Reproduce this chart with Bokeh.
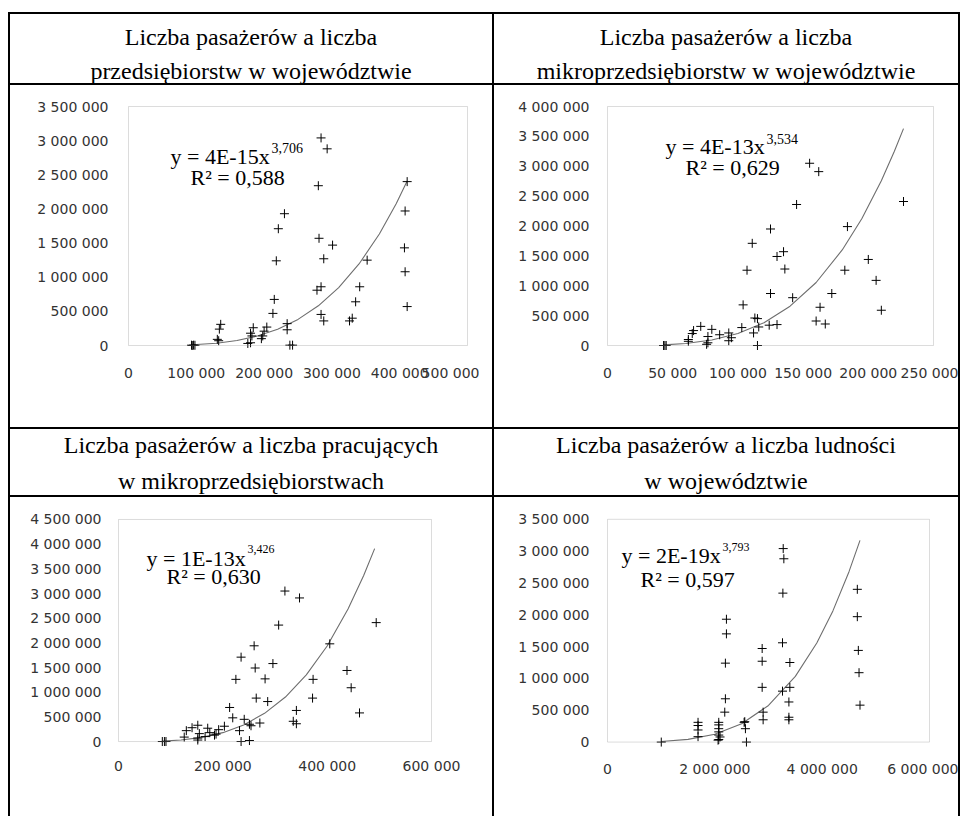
from bokeh.plotting import figure
from bokeh.models import Range1d, Label, BoxAnnotation, Div, Spacer, FixedTicker
from bokeh.layouts import column, row
from bokeh.embed import file_html
from bokeh.resources import INLINE

# ---------------- data ----------------
TITLES = [
    ["Liczba pasażerów a liczba", "przedsiębiorstw w województwie"],
    ["Liczba pasażerów a liczba", "mikroprzedsiębiorstw w województwie"],
    ["Liczba pasażerów a liczba pracujących", "w mikroprzedsiębiorstwach"],
    ["Liczba pasażerów a liczba ludności", "w województwie"],
]

EQ_MAIN = ["y = 4E-15x", "y = 4E-13x", "y = 1E-13x", "y = 2E-19x"]
EQ_EXP = ["3,706", "3,534", "3,426", "3,793"]
EQ_R2 = ["R² = 0,588", "R² = 0,629", "R² = 0,630", "R² = 0,597"]

# chart 1: enterprises
X1 = [284000, 293000, 280000, 411000, 408000, 230000, 221000, 281000, 301000, 407000,
      288000, 352000, 218000, 408000, 284000, 278000, 341000, 215000, 335000, 411000,
      213000, 284000, 288000, 330000, 326000, 234000, 234000, 238000, 242000, 136000,
      134000, 131000, 133000, 204000, 200000, 198000, 196000, 184000, 180000, 182000,
      176000, 180000, 93000, 96000, 94000, 98000]
Y1 = [3040000, 2880000, 2340000, 2400000, 1970000, 1930000, 1710000, 1570000, 1470000, 1430000,
      1270000, 1250000, 1240000, 1080000, 860000, 810000, 860000, 675000, 640000, 570000,
      470000, 455000, 360000, 400000, 360000, 320000, 230000, 5000, 5000, 310000,
      240000, 90000, 70000, 270000, 210000, 140000, 100000, 260000, 180000, 140000,
      30000, 40000, 5000, 5000, 0, 3000]
T1_X = [94000, 130000, 160000, 190000, 220000, 250000, 280000, 310000, 340000, 370000, 395000, 411000]
T1_Y = [10000, 34000, 73000, 138000, 238000, 382000, 581000, 848000, 1194000, 1632000, 2080000, 2410000]

# chart 2: micro-enterprises
X2 = [155000, 162000, 145000, 227000, 184000, 125000, 111000, 135000, 130000, 200000,
      107000, 136000, 182000, 206000, 125000, 142000, 172000, 104000, 163000, 210000,
      113000, 115000, 160000, 167000, 130000, 124000, 103000, 116000, 112000, 115000,
      71500, 66000, 65000, 62000, 62000, 80000, 86000, 93000, 95000, 93000,
      77000, 77000, 76000, 43000, 44000, 45000]
Y2 = [3050000, 2910000, 2360000, 2410000, 1990000, 1950000, 1710000, 1570000, 1490000, 1440000,
      1260000, 1280000, 1260000, 1090000, 870000, 800000, 870000, 680000, 640000, 590000,
      460000, 450000, 410000, 360000, 350000, 340000, 300000, 310000, 210000, 0,
      320000, 250000, 200000, 100000, 70000, 270000, 180000, 210000, 130000, 80000,
      150000, 45000, 20000, 0, 0, 0]
T2_X = [43000, 60000, 80000, 100000, 120000, 140000, 160000, 180000, 195000, 210000, 220000, 227000]
T2_Y = [10000, 33000, 91000, 200000, 382000, 658000, 1054000, 1599000, 2122000, 2757000, 3250000, 3630000]

# chart 3: employed in micro-enterprises
X3 = [319000, 347000, 307000, 494000, 405000, 260000, 235000, 296000, 262000, 438000,
      225000, 281000, 373000, 446000, 264000, 286000, 372000, 213000, 341000, 462000,
      219000, 241000, 335000, 341000, 271000, 251000, 254000, 232000, 235000, 251000,
      203000, 192000, 187000, 184000, 171000, 175000, 166000, 152000, 155000, 152000,
      152000, 141000, 130000, 126000, 84000, 88000, 91000]
Y3 = [3050000, 2910000, 2360000, 2410000, 1980000, 1940000, 1710000, 1580000, 1490000, 1440000,
      1260000, 1270000, 1260000, 1090000, 880000, 810000, 880000, 690000, 630000, 580000,
      480000, 450000, 410000, 360000, 375000, 350000, 320000, 220000, 0, 20000,
      310000, 240000, 150000, 130000, 270000, 180000, 100000, 330000, 160000, 70000,
      30000, 280000, 220000, 90000, 0, 0, 0]
T3_X = [84000, 120000, 160000, 200000, 240000, 280000, 320000, 360000, 400000, 440000, 470000, 491000]
T3_Y = [9000, 31000, 84000, 180000, 337000, 571000, 902000, 1351000, 1937000, 2685000, 3366000, 3910000]

# chart 4: population
X4 = [3274000, 3286000, 3268000, 4655000, 4655000, 2216000, 2216000, 3261000, 2882000, 4674000,
      2882000, 3398000, 2197000, 4687000, 2882000, 3398000, 3261000, 2197000, 3380000, 4705000,
      2185000, 2900000, 2900000, 3380000, 3380000, 2558000, 2546000, 2570000, 2589000, 1687000,
      1687000, 1687000, 1687000, 2073000, 2073000, 2073000, 2073000, 2073000, 2073000, 2097000,
      2060000, 1002000]
Y4 = [3040000, 2880000, 2340000, 2400000, 1970000, 1930000, 1700000, 1560000, 1470000, 1440000,
      1270000, 1250000, 1240000, 1090000, 860000, 860000, 800000, 680000, 630000, 580000,
      470000, 470000, 350000, 390000, 350000, 320000, 310000, 210000, 0, 310000,
      260000, 190000, 85000, 310000, 270000, 210000, 160000, 110000, 40000, 80000,
      30000, 0]
T4_X = [1000000, 1500000, 2000000, 2500000, 3000000, 3500000, 3900000, 4200000, 4500000, 4705000]
T4_Y = [9000, 42000, 124000, 288000, 575000, 1032000, 1556000, 2061000, 2677000, 3170000]

# ticks
X1_TICKS = [0, 100000, 200000, 300000, 400000, 500000]
X1_LABELS = ["0", "100 000", "200 000", "300 000", "400 000", "500 000"]
X2_TICKS = [0, 50000, 100000, 150000, 200000, 250000]
X2_LABELS = ["0", "50 000", "100 000", "150 000", "200 000", "250 000"]
X3_TICKS = [0, 200000, 400000, 600000]
X3_LABELS = ["0", "200 000", "400 000", "600 000"]
X4_TICKS = [0, 2000000, 4000000, 6000000]
X4_LABELS = ["0", "2 000 000", "4 000 000", "6 000 000"]
Y_TICKS = [0, 500000, 1000000, 1500000, 2000000, 2500000, 3000000, 3500000, 4000000, 4500000]
Y_LABELS = ["0", "500 000", "1 000 000", "1 500 000", "2 000 000", "2 500 000",
            "3 000 000", "3 500 000", "4 000 000", "4 500 000"]

AXIS_FONT = "DejaVu Sans"
AXIS_SIZE = "14px"
AXIS_COLOR = "#333333"
SERIF = "Liberation Serif"


def make_chart(cell, w, h, left, right, top, bottom, xmax, ymax, xt, xl, nyt,
               xs, ys, tx, ty, idx, eq_px, exp_px, r2_px, exp_size, x_stand, y_stand):
    pl, pr, pt, pb = 2, 2, 2, 6
    boxw = w - left - right
    boxh = h - top - bottom
    x0 = -xmax * pl / boxw
    x1 = xmax * (1 + pr / boxw)
    y0 = -ymax * pb / boxh
    y1 = ymax * (1 + pt / boxh)
    p = figure(width=w, height=h, x_range=Range1d(x0, x1), y_range=Range1d(y0, y1),
               output_backend="svg", toolbar_location=None,
               min_border_left=left - pl, min_border_right=right - pr,
               min_border_top=top - pt, min_border_bottom=bottom - pb)
    p.outline_line_color = None
    p.grid.visible = False
    p.background_fill_color = "white"
    p.border_fill_color = "white"

    yt = Y_TICKS[:nyt]
    yl = Y_LABELS[:nyt]
    p.xaxis.ticker = FixedTicker(ticks=xt)
    p.xaxis.major_label_overrides = {t: l for t, l in zip(xt, xl)}
    p.yaxis.ticker = FixedTicker(ticks=yt)
    p.yaxis.major_label_overrides = {t: l for t, l in zip(yt, yl)}
    for ax in (p.xaxis, p.yaxis):
        ax.axis_line_color = None
        ax.major_tick_line_color = None
        ax.minor_tick_line_color = None
        ax.major_tick_out = 0
        ax.major_tick_in = 0
        ax.major_label_text_font = AXIS_FONT
        ax.major_label_text_font_size = AXIS_SIZE
        ax.major_label_text_color = AXIS_COLOR
    p.xaxis.major_label_standoff = x_stand
    p.yaxis.major_label_standoff = y_stand - pl

    p.add_layout(BoxAnnotation(left=0, right=xmax, bottom=0, top=ymax,
                               fill_color=None, line_color="#8c8c8c", line_width=1))
    p.line(tx, ty, line_color="#6e6e6e", line_width=1.1)
    p.scatter(xs, ys, marker="cross", size=9, line_color="black", line_width=1)

    def to_data(pos):
        dx = (pos[0] - cell[0] - left) / boxw * xmax
        dy = (cell[1] + top + boxh - pos[1]) / boxh * ymax
        return dx, dy

    for pos, txt, size in ((eq_px, EQ_MAIN[idx], "22px"),
                           (exp_px, EQ_EXP[idx], exp_size),
                           (r2_px, EQ_R2[idx], "22px")):
        lx, ly = to_data(pos)
        p.add_layout(Label(x=lx, y=ly, text=txt, text_font=SERIF, text_font_size=size,
                           text_color="black", text_baseline="alphabetic", text_align="left"))
    return p


LW, RW = 482, 464
TOTAL_W = 2 + LW + 2 + RW + 2
ROW_H = [69, 342, 66, 319]


def vline(h):
    return Div(text="", width=2, height=h, margin=(0, 0, 0, 0),
               styles={"background-color": "black"})


def hline():
    return Div(text="", width=TOTAL_W, height=2, margin=(0, 0, 0, 0),
               styles={"background-color": "black"})


def title_div(lines, w, h, shift, lh):
    html = ('<div style="font-family:\'Liberation Serif\',\'Times New Roman\',serif;font-size:24px;'
            'line-height:%dpx;text-align:center;color:black;position:relative;top:%dpx;width:%dpx;">'
            '%s<br>%s</div>' % (lh, shift, w, lines[0], lines[1]))
    return Div(text=html, width=w, height=h, margin=(0, 0, 0, 0),
               styles={"background-color": "white", "overflow": "hidden"})


c1 = make_chart((10, 85), 469, ROW_H[1], 118, 12, 21, 82, 500000, 3500000, X1_TICKS, X1_LABELS, 8,
                X1, Y1, T1_X, T1_Y, 0, (170, 156), (271, 147), (190, 177), "14px", 13, 20)
c2 = make_chart((494, 85), RW, ROW_H[1], 113, 25, 21, 82, 250000, 4000000, X2_TICKS, X2_LABELS, 9,
                X2, Y2, T2_X, T2_Y, 1, (665, 146), (766, 138), (685, 167), "14px", 13, 18)
c3 = make_chart((10, 497), LW, ROW_H[3], 108, 61, 21, 75, 600000, 4500000, X3_TICKS, X3_LABELS, 10,
                X3, Y3, T3_X, T3_Y, 2, (146, 557), (247, 548), (166, 575), "12px", 10, 17)
c4 = make_chart((494, 497), RW, ROW_H[3], 113, 29, 22, 51, 6000000, 3500000, X4_TICKS, X4_LABELS, 8,
                X4, Y4, T4_X, T4_Y, 3, (621, 559), (722, 550), (640, 585), "12px", 13, 18)

table = column(
    hline(),
    row(vline(ROW_H[0]), title_div(TITLES[0], LW, ROW_H[0], 6, 34), vline(ROW_H[0]),
        title_div(TITLES[1], RW, ROW_H[0], 6, 34), vline(ROW_H[0])),
    hline(),
    row(vline(ROW_H[1]), c1, Spacer(width=LW - 469, height=ROW_H[1], margin=(0, 0, 0, 0),
                                    styles={"background-color": "white"}),
        vline(ROW_H[1]), c2, vline(ROW_H[1])),
    hline(),
    row(vline(ROW_H[2]), title_div(TITLES[2], LW, ROW_H[2], -2, 36), vline(ROW_H[2]),
        title_div(TITLES[3], RW, ROW_H[2], -2, 36), vline(ROW_H[2])),
    hline(),
    row(vline(ROW_H[3]), c3, vline(ROW_H[3]), c4, vline(ROW_H[3])),
)

layout = row(Spacer(width=8, height=10, margin=(0, 0, 0, 0)),
             column(Spacer(width=TOTAL_W, height=12, margin=(0, 0, 0, 0)), table))

open("out.html", "w").write(file_html(layout, INLINE))
